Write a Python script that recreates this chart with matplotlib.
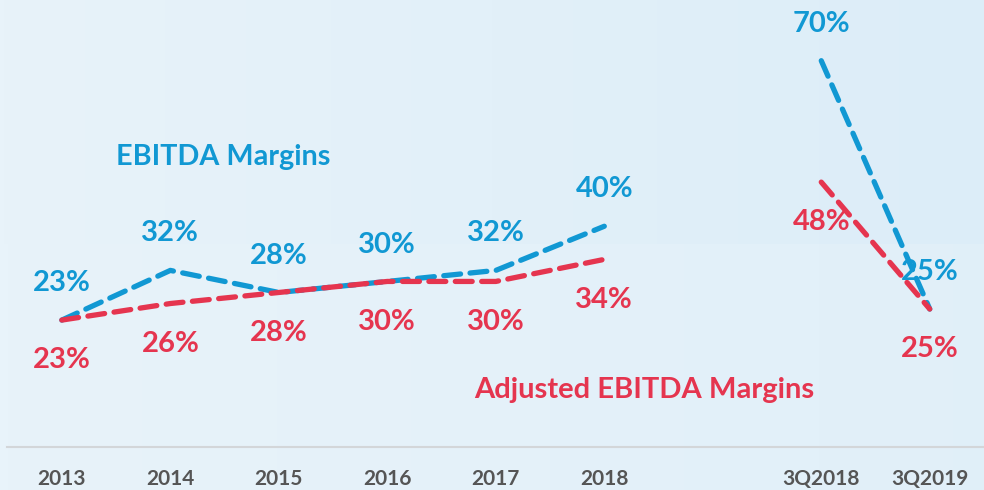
import numpy as np
import matplotlib.pyplot as plt
from matplotlib.colors import LinearSegmentedColormap

years = ['2013', '2014', '2015', '2016', '2017', '2018']
quarters = ['3Q2018', '3Q2019']
ebitda_years = [23, 32, 28, 30, 32, 40]
adj_years = [23, 26, 28, 30, 30, 34]
ebitda_q = [70, 25]
adj_q = [48, 25]

blue = '#1198d3'
red = '#e5354f'
plt.rcParams['font.family'] = ['Lato', 'DejaVu Sans']

fig = plt.figure(figsize=(9.84, 4.90), dpi=100)

# soft blue backdrop
bg = fig.add_axes([0, 0, 1, 1])
grad = np.linspace(0, 1, 256).reshape(1, -1)
grad = np.vstack([grad, grad * 0.6])
cm = LinearSegmentedColormap.from_list('bg', ['#e8f3fa', '#dcedf8'])
bg.imshow(grad, aspect='auto', cmap=cm, extent=[0, 1, 0, 1])
bg.axis('off')

ax = fig.add_axes([0, 43 / 490, 1, 447 / 490])
ax.set_facecolor('none')
xy = np.arange(len(years))
xq = np.array([7, 8])
ls = dict(lw=3.8, dashes=(3.2, 1.8), dash_capstyle='round')
ax.plot(xy, ebitda_years, color=blue, **ls)
ax.plot(xy, adj_years, color=red, **ls)
ax.plot(xq, ebitda_q, color=blue, **ls)
ax.plot(xq, adj_q, color=red, **ls)

lab = dict(ha='center', va='center', fontsize=21, fontweight='bold',
           textcoords='offset points')
for x, v in zip(list(xy) + list(xq), ebitda_years + ebitda_q):
    ax.annotate(f'{v}%', (x, v), xytext=(0, 26.6), color=blue, **lab)
for x, v in zip(list(xy) + list(xq), adj_years + adj_q):
    ax.annotate(f'{v}%', (x, v), xytext=(0, -29), color=red, **lab)

ax.text(0.5, 52.5, 'EBITDA Margins', color=blue, fontsize=20.7,
        fontweight='bold', ha='left', va='center')
ax.text(3.8, 10.4, 'Adjusted EBITDA Margins', color=red, fontsize=21,
        fontweight='bold', ha='left', va='center')

ax.set_xlim(-0.57, 8.5)
ax.set_ylim(0, 81)
ax.set_xticks(list(xy) + list(xq))
ax.set_xticklabels(years + quarters, fontsize=15, fontweight='bold',
                   color='#555555')
ax.tick_params(axis='x', length=0, pad=15.5)
ax.set_yticks([])
for s in ['top', 'left', 'right']:
    ax.spines[s].set_visible(False)
ax.spines['bottom'].set_color('#d3d6d9')
ax.spines['bottom'].set_linewidth(1.5)
ax.spines['bottom'].set_bounds(-0.51, 8.5)

fig.savefig('out.png', dpi=100)
